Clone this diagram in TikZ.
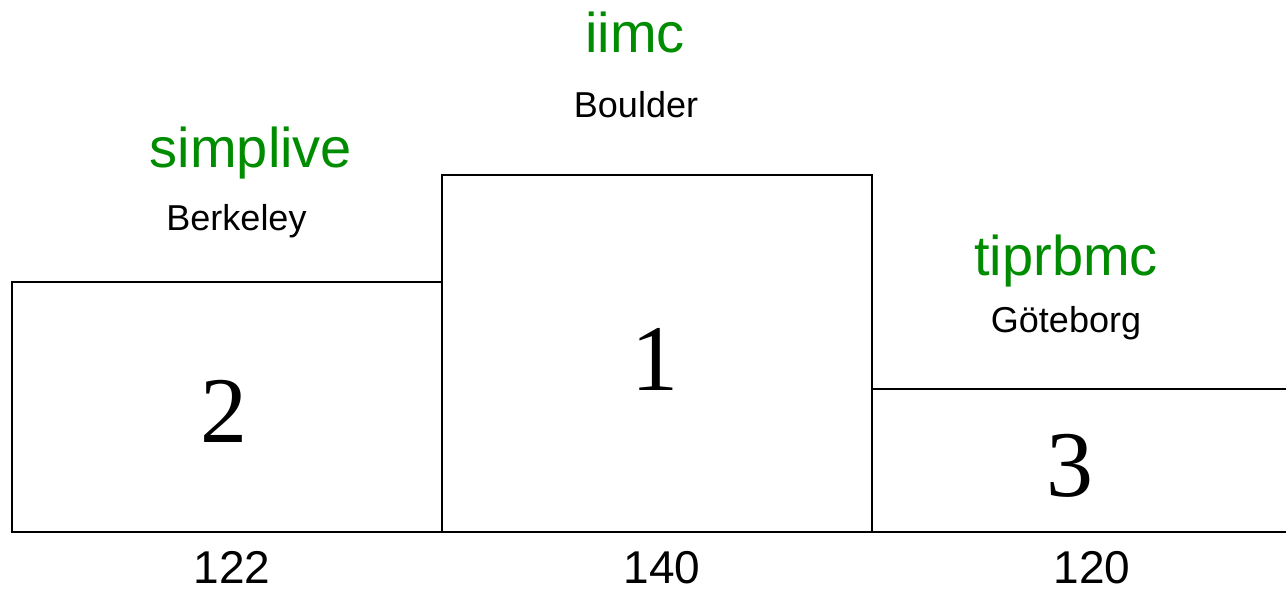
\documentclass[tikz,border=0pt]{standalone}
\usepackage{fontspec}
\setmainfont{Liberation Serif}
\setsansfont{Liberation Sans}
\definecolor{teamgreen}{RGB}{0,140,0}
\begin{document}
\begin{tikzpicture}[x=0.5pt,y=-0.5pt,
  block/.style={draw=black,line width=0.8pt},
  rank/.style={anchor=base,inner sep=0pt,font=\fontsize{47}{47}\selectfont},
  team/.style={anchor=base,inner sep=0pt,text=teamgreen,font=\sffamily\fontsize{28}{28}\selectfont},
  place/.style={anchor=base,inner sep=0pt,font=\sffamily\fontsize{18}{18}\selectfont},
  score/.style={anchor=base,inner sep=0pt,font=\sffamily\fontsize{23}{23}\selectfont}]
\useasboundingbox (0,0) rectangle (1286,590);
\clip (0,0) rectangle (1286,590);
% podium blocks
\draw[block] (12,282) rectangle (442,532);
\draw[block] (442,175) rectangle (872,532);
\draw[block] (872,389) rectangle (1310,532);
% ranks
\node[rank] (r2) at (224,442) {2};
\node[rank] (r1) at (655,390) {1};
\node[rank] (r3) at (1070,496) {3};
% teams
\node[team] (t2) at (251,167) {simplive};
\node[place] (p2) at (236.5,230) {Berkeley};
\node[team] (t1) at (635,52) {iimc};
\node[place] (p1) at (636,117) {Boulder};
\node[team] (t3) at (1066,275) {tiprbmc};
\node[place] (p3) at (1066,332) {Göteborg};
% scores
\node[score] (s2) at (232,583) {122};
\node[score] (s1) at (662,583) {140};
\node[score] (s3) at (1092,583) {120};
\end{tikzpicture}
\end{document}
